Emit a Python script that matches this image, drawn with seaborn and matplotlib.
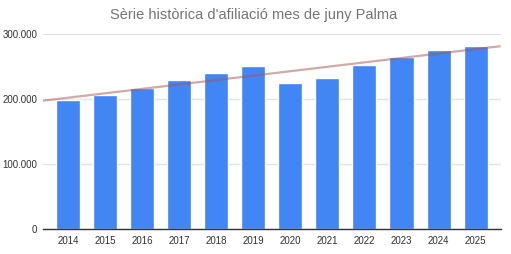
import numpy as np
import pandas as pd
import matplotlib
matplotlib.use("Agg")
import matplotlib.pyplot as plt
import seaborn as sns
from matplotlib.ticker import FuncFormatter

years = ["2014", "2015", "2016", "2017", "2018", "2019", "2020", "2021", "2022", "2023", "2024", "2025"]
afiliats = [199000, 206500, 217000, 229500, 239700, 251000, 225000, 232000, 252000, 265000, 276000, 282000]
title = "Sèrie històrica d'afiliació mes de juny Palma"

df = pd.DataFrame({"any": years, "afiliats": afiliats})

sns.set_theme(style="white")
plt.rcParams["font.family"] = ["Liberation Sans", "DejaVu Sans"]

fig = plt.figure(figsize=(5.11, 2.54), dpi=100)
ax = fig.add_axes([0.084, 0.0965, 0.896, 0.7695])

sns.barplot(data=df, x="any", y="afiliats", color="#4285F4", saturation=1,
            width=0.65, ax=ax, zorder=2)

# linear trendline
xs = np.arange(len(years))
coef = np.polyfit(xs, afiliats, 1)
xl = np.array([-0.68, len(years) - 1 + 0.68])
ax.plot(xl, np.polyval(coef, xl), color="#a85550", alpha=0.5, lw=1.6, zorder=3,
        solid_capstyle="butt")

ax.set_xlim(-0.68, len(years) - 1 + 0.68)
ax.set_ylim(0, 300000)
ax.set_yticks([0, 100000, 200000, 300000])
ax.yaxis.set_major_formatter(FuncFormatter(lambda v, p: f"{int(v):,}".replace(",", ".")))
ax.grid(axis="y", color="#e3e3e3", lw=1, zorder=0)
ax.set_axisbelow(True)
for s in ["top", "right", "left"]:
    ax.spines[s].set_visible(False)
ax.spines["bottom"].set_color("#333333")
ax.spines["bottom"].set_linewidth(1)
ax.set_xlabel("")
ax.set_ylabel("")
ax.tick_params(axis="both", length=0, labelsize=7, colors="#333333")
ax.tick_params(axis="x", pad=5)
ax.tick_params(axis="y", pad=4)

fig.suptitle(title, x=0.497, y=0.97, fontsize=10.5, color="#757575")

fig.savefig("out.png", dpi=100)
